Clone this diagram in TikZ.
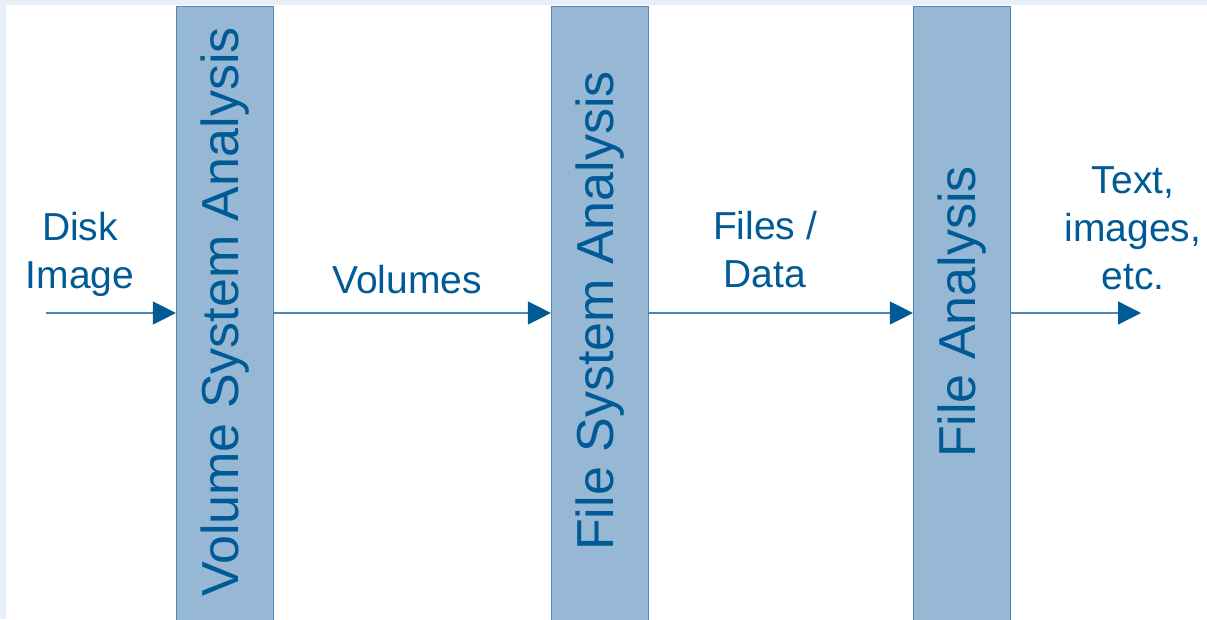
\documentclass[tikz,border=0pt]{standalone}
\usepackage{fontspec}
\setmainfont{Liberation Sans}
\usetikzlibrary{arrows.meta}
\definecolor{txtblue}{HTML}{005A96}
\definecolor{barfill}{HTML}{97B8D4}
\definecolor{barline}{HTML}{4F88B8}
\definecolor{linecol}{HTML}{4A86B6}
\definecolor{edgebg}{HTML}{E9EFF7}
\begin{document}
\begin{tikzpicture}[x=1pt,y=-1pt,
  stage/.style={draw=barline,fill=barfill,line width=1.2pt,minimum width=97pt,minimum height=620pt,anchor=north,inner sep=0pt},
  vlabel/.style={rotate=90,text=txtblue,font=\fontsize{52}{60}\selectfont},
  lbl/.style={text=txtblue,font=\fontsize{39}{48}\selectfont,align=center,inner sep=0pt},
  flow/.style={draw=linecol,line width=1.3pt,-{Triangle[length=23pt,width=23pt,color=txtblue]}}]
\fill[edgebg] (0,0) rectangle (1207,619);
\fill[white] (6,5) rectangle (1207,619);
\useasboundingbox (0,0) rectangle (1207,619);
\node[stage] (b1) at (225,6) {};
\node[stage] (b2) at (600,6) {};
\node[stage] (b3) at (962,6) {};
\node[vlabel] (t1) at (225,312) {Volume System Analysis};
\node[vlabel] (t2) at (600,311) {File System Analysis};
\node[vlabel] (t3) at (962,312) {File Analysis};
\coordinate (src) at (46,313);
\coordinate (dst) at (1141,313);
\draw[flow] (src) -- (src -| b1.west);
\draw[flow] (b1.east |- src) -- (b2.west |- src);
\draw[flow] (b2.east |- src) -- (b3.west |- src);
\draw[flow] (b3.east |- src) -- (dst);
\node[lbl] (l1) at (80,254) {Disk\\Image};
\node[lbl] (l2) at (407,280) {Volumes};
\node[lbl] (l3) at (765,250) {Files /\\Data};
\node[lbl] (l4) at (1133,228) {Text,\\images,\\etc.};
\end{tikzpicture}
\end{document}
